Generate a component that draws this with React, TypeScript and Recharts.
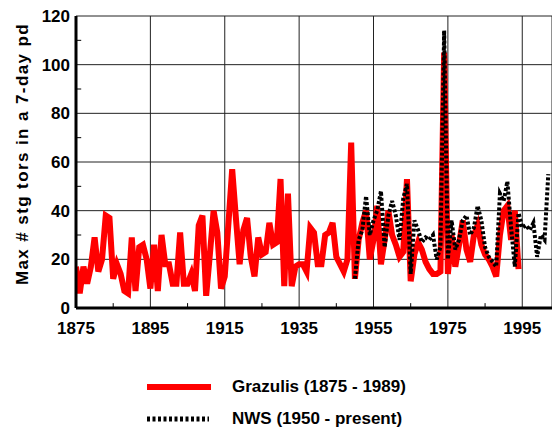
import { LineChart, Line, XAxis, YAxis, CartesianGrid, ReferenceLine } from "recharts";

const FONT = '"Liberation Sans", Arial, sans-serif';

// yearly maxima, Grazulis record starts 1875
const GRAZULIS_START = 1875;
const grazulis = [
  17, 6, 17, 10, 17, 29, 15, 20, 38, 37,
  12, 18, 14, 7, 6, 29, 7, 25, 26, 20,
  8, 26, 7, 30, 18, 18, 10, 10, 31, 10,
  10, 14, 7, 34, 38, 5, 22, 40, 31, 8,
  13, 35, 57, 37, 18, 32, 37, 21, 13, 29,
  22, 23, 35, 26, 27, 53, 9, 47, 9, 17,
  18, 18, 15, 33, 31, 18, 18, 30, 31, 35,
  21, 18, 15, 20, 68, 12, 28, 35, 40, 20,
  28, 42, 18, 28, 40, 30, 26, 21, 23, 53,
  11, 22, 27, 24, 19, 16, 14, 14, 15, 105,
  14, 30, 17, 26, 36, 24, 19, 30, 34, 26,
  22, 20, 17, 13, 30, 40, 42, 28, 40, 16,
];

// NWS record starts 1950
const NWS_START = 1950;
const nws = [
  12, 28, 32, 46, 30, 36, 40, 48, 25, 38,
  44, 38, 28, 45, 51, 14, 36, 32, 27, 29,
  28, 30, 20, 25, 114, 20, 36, 24, 28, 36,
  38, 30, 33, 42, 36, 25, 21, 19, 17, 47,
  44, 52, 33, 17, 39, 33, 34, 32, 35, 21,
  30, 28, 55,
];

const xTicks = [1875, 1895, 1915, 1935, 1955, 1975, 1995];
const xMinor = [1885, 1905, 1925, 1945, 1965, 1985];
const yTicks = [0, 20, 40, 60, 80, 100, 120];
const yMinor = [10, 30, 50, 70, 90, 110];

const lastYear = NWS_START + nws.length - 1;
const data: { year: number; grazulis: number | null; nws: number | null }[] = [];
for (let yr = GRAZULIS_START; yr <= lastYear; yr++) {
  const g = yr - GRAZULIS_START;
  const n = yr - NWS_START;
  data.push({
    year: yr,
    grazulis: g < grazulis.length ? grazulis[g] : null,
    nws: n >= 0 ? nws[n] : null,
  });
}

const tickStyle = { fill: "#000", fontSize: 17, fontWeight: "bold", fontFamily: FONT };

export default function App() {
  return (
    <div style={{ position: "absolute", left: 0, top: 0, width: 552, height: 431, background: "#fff" }}>
      <LineChart width={552} height={431} data={data} margin={{ top: 16, right: 0, bottom: 0, left: 0 }}>
        <CartesianGrid stroke="#222" strokeWidth={1} />
        <XAxis
          dataKey="year"
          type="number"
          domain={[1875, 2003]}
          ticks={xTicks}
          allowDataOverflow
          height={123}
          tickLine={false}
          tickSize={0}
          tickMargin={14}
          axisLine={{ stroke: "#000", strokeWidth: 3 }}
          tick={tickStyle}
          interval={0}
        />
        <YAxis
          type="number"
          domain={[0, 120]}
          ticks={yTicks}
          width={76}
          tickLine={false}
          tickSize={0}
          tickMargin={6}
          axisLine={{ stroke: "#000", strokeWidth: 3 }}
          tick={tickStyle}
          interval={0}
          label={() => (
            <text
              x={28}
              y={154}
              transform="rotate(-90 28 154)"
              textAnchor="middle"
              fontFamily={FONT}
              fontWeight="bold"
              fontSize={17}
              letterSpacing={1.4}
              fill="#000"
            >
              Max # stg tors in a 7-day pd
            </text>
          )}
        />
        {xMinor.map((yr) => (
          <ReferenceLine key={"xm" + yr} segment={[{ x: yr, y: 0 }, { x: yr, y: 2 }]} stroke="#000" strokeWidth={1} />
        ))}
        {yMinor.map((v) => (
          <ReferenceLine key={"ym" + v} segment={[{ x: 1875, y: v }, { x: 1876.4, y: v }]} stroke="#000" strokeWidth={1} />
        ))}
        <Line
          type="linear"
          dataKey="grazulis"
          stroke="#ff0000"
          strokeWidth={6}
          dot={false}
          activeDot={false}
          isAnimationActive={false}
        />
        <Line
          type="linear"
          dataKey="nws"
          stroke="#000"
          strokeWidth={4}
          strokeDasharray="3 2"
          dot={false}
          activeDot={false}
          isAnimationActive={false}
        />
      </LineChart>
      <div style={{ position: "absolute", left: 147, top: 377, height: 20, display: "flex", alignItems: "center", fontFamily: FONT, fontWeight: "bold", fontSize: 17 }}>
        <svg width={64} height={8}>
          <line x1={0} y1={4} x2={64} y2={4} stroke="#ff0000" strokeWidth={6} />
        </svg>
        <span style={{ marginLeft: 21 }}>Grazulis (1875 - 1989)</span>
      </div>
      <div style={{ position: "absolute", left: 147, top: 409, height: 20, display: "flex", alignItems: "center", fontFamily: FONT, fontWeight: "bold", fontSize: 17 }}>
        <svg width={64} height={8}>
          <line x1={0} y1={4} x2={62} y2={4} stroke="#000" strokeWidth={5} strokeDasharray="3 2.5" />
        </svg>
        <span style={{ marginLeft: 21 }}>NWS (1950 - present)</span>
      </div>
    </div>
  );
}
